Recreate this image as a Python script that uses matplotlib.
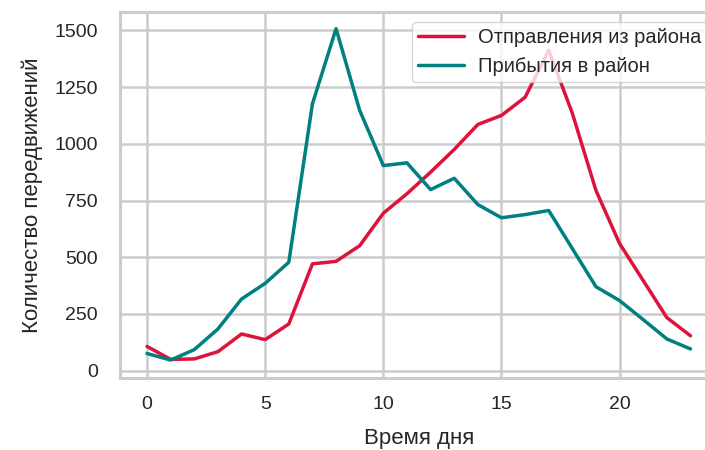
import matplotlib
matplotlib.use("Agg")
import matplotlib.pyplot as plt
import seaborn as sns

hours = list(range(24))
departures = [107, 50, 52, 84, 162, 137, 206, 471, 482, 551, 694, 780, 875, 975,
              1085, 1125, 1205, 1412, 1134, 794, 560, 397, 234, 154]
arrivals = [76, 47, 93, 184, 316, 385, 478, 1176, 1507, 1147, 904, 916, 798, 848,
            732, 674, 688, 706, 538, 370, 309, 225, 140, 96]
label_dep = "Отправления из района"
label_arr = "Прибытия в район"
xlabel = "Время дня"
ylabel = "Количество передвижений"

sns.set_theme(style="whitegrid")
plt.rcParams['font.family'] = ['Liberation Sans', 'DejaVu Sans']

fig = plt.figure(figsize=(7.05, 4.5), dpi=100)
ax = fig.add_axes([0.170, 0.16, 0.848, 0.813])

ax.plot(hours, departures, color="#DC143C", lw=2.5, label=label_dep)
ax.plot(hours, arrivals, color="#008080", lw=2.5, label=label_arr)

ax.set_xlim(-1.15, 24.15)
ax.set_ylim(-32, 1580)
ax.set_xticks([0, 5, 10, 15, 20])
ax.set_yticks([0, 250, 500, 750, 1000, 1250, 1500])

ax.grid(True, color="#cccccc", lw=1.8)
for s in ax.spines.values():
    s.set_color("#cccccc")
    s.set_linewidth(2.2)

ax.tick_params(axis='both', labelsize=14, colors="#262626", length=0)
ax.tick_params(axis='y', pad=16)
ax.tick_params(axis='x', pad=13)
ax.set_xlabel(xlabel, fontsize=16, color="#262626", labelpad=11)
ax.set_ylabel(ylabel, fontsize=16, color="#262626", labelpad=8)

leg = ax.legend(loc="upper right", fontsize=14.5, frameon=True, framealpha=0.8,
                edgecolor="#cccccc", handlelength=2.3, handletextpad=0.7,
                borderaxespad=0.5, borderpad=0.3)

fig.savefig("out.png", dpi=100)
